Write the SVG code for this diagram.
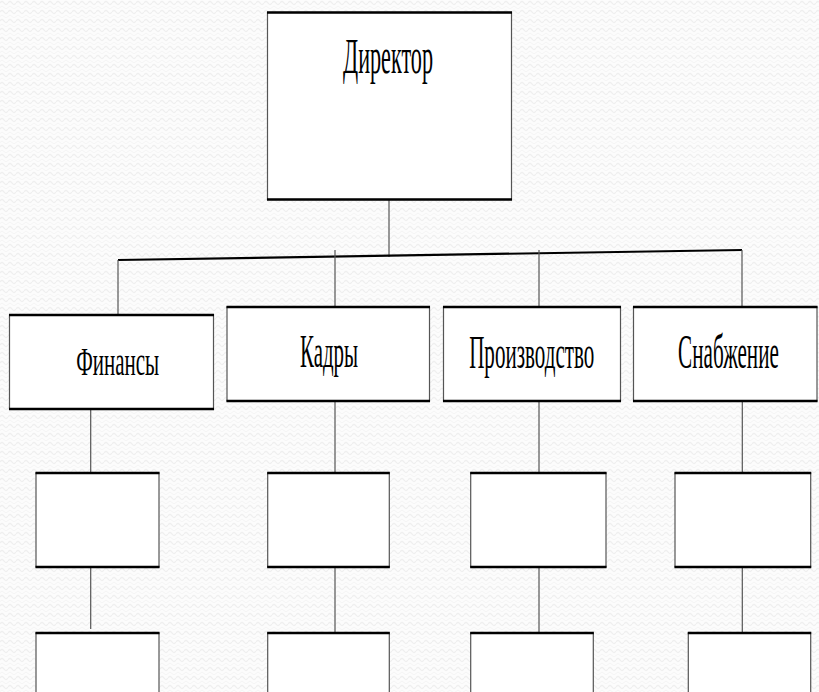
<svg xmlns="http://www.w3.org/2000/svg" width="819" height="692" viewBox="0 0 819 692">
  <style>
    .box { fill: #ffffff; stroke: #555555; stroke-width: 1.2; }
    .edge { stroke: #000000; stroke-width: 2.4; fill: none; }
    .link { stroke: #555555; stroke-width: 1.2; fill: none; }
    .bus { stroke: #000000; stroke-width: 2.2; fill: none; }
    .label { font-family: "Liberation Serif", "Times New Roman", serif; fill: #000000; text-anchor: middle; }
  </style>
  <defs>
    <pattern id="paper" width="8" height="9" patternUnits="userSpaceOnUse">
      <rect width="8" height="9" fill="#fcfcfc"/>
      <path d="M0 3 Q2 0 4 3 T8 3" stroke="#efefef" stroke-width="1.3" fill="none"/>
      <path d="M0 7.5 Q2 4.5 4 7.5 T8 7.5" stroke="#f4f4f4" stroke-width="1" fill="none"/>
    </pattern>
  </defs>

  <rect width="819" height="692" fill="url(#paper)"/>

  <!-- connectors -->
  <g id="connectors">
    <line class="link" x1="389" y1="199" x2="389" y2="257"/>
    <line class="bus" x1="118" y1="260" x2="742" y2="250"/>
    <line class="link" x1="118" y1="260" x2="118" y2="322"/>
    <line class="link" x1="335" y1="250" x2="335" y2="313"/>
    <line class="link" x1="539" y1="250" x2="539" y2="306"/>
    <line class="link" x1="742" y1="250" x2="742" y2="320"/>
    <!-- column links -->
    <line class="link" x1="90.7" y1="408" x2="90.7" y2="502"/>
    <line class="link" x1="90.7" y1="563" x2="90.7" y2="629"/>
    <line class="link" x1="335" y1="393" x2="335" y2="487"/>
    <line class="link" x1="335" y1="552" x2="335" y2="633"/>
    <line class="link" x1="539" y1="401" x2="539" y2="487"/>
    <line class="link" x1="539" y1="552" x2="539" y2="633"/>
    <line class="link" x1="742.3" y1="393" x2="742.3" y2="473"/>
    <line class="link" x1="742.3" y1="552" x2="742.3" y2="633"/>
  </g>

  <!-- director -->
  <g id="director">
    <rect class="box" x="267.5" y="12.5" width="244" height="187"/>
    <line class="edge" x1="267" y1="12.5" x2="512" y2="12.5"/>
    <line class="edge" x1="267" y1="199.5" x2="512" y2="199.5"/>
    <text class="label" transform="translate(388 73) scale(0.45 1)" font-size="50" textLength="200" lengthAdjust="spacingAndGlyphs">Директор</text>
  </g>

  <!-- departments -->
  <g id="finance">
    <rect class="box" x="9.5" y="315" width="204" height="94"/>
    <line class="edge" x1="9" y1="315" x2="214" y2="315"/>
    <line class="edge" x1="9" y1="409" x2="214" y2="409"/>
    <text class="label" transform="translate(117.7 375) scale(0.45 1)" font-size="40" textLength="184" lengthAdjust="spacingAndGlyphs">Финансы</text>
  </g>
  <g id="personnel">
    <rect class="box" x="227" y="307" width="202.5" height="94"/>
    <line class="edge" x1="226.5" y1="307" x2="430" y2="307"/>
    <line class="edge" x1="226.5" y1="401" x2="430" y2="401"/>
    <text class="label" transform="translate(329 367) scale(0.45 1)" font-size="47" textLength="129" lengthAdjust="spacingAndGlyphs">Кадры</text>
  </g>
  <g id="production">
    <rect class="box" x="443.5" y="307" width="177" height="94"/>
    <line class="edge" x1="443" y1="307" x2="621" y2="307"/>
    <line class="edge" x1="443" y1="401" x2="621" y2="401"/>
    <text class="label" transform="translate(531.7 368) scale(0.45 1)" font-size="47" textLength="278" lengthAdjust="spacingAndGlyphs">Производство</text>
  </g>
  <g id="supply">
    <rect class="box" x="633.5" y="307" width="183.5" height="94"/>
    <line class="edge" x1="633" y1="307" x2="817.5" y2="307"/>
    <line class="edge" x1="633" y1="401" x2="817.5" y2="401"/>
    <text class="label" transform="translate(728.5 368) scale(0.45 1)" font-size="48" textLength="224" lengthAdjust="spacingAndGlyphs">Снабжение</text>
  </g>

  <!-- second level -->
  <g id="finance-1">
    <rect class="box" x="36" y="473" width="123" height="94"/>
    <line class="edge" x1="35.5" y1="473" x2="159.5" y2="473"/>
    <line class="edge" x1="35.5" y1="567" x2="159.5" y2="567"/>
  </g>
  <g id="personnel-1">
    <rect class="box" x="267.7" y="473" width="121.6" height="94"/>
    <line class="edge" x1="267.2" y1="473" x2="389.8" y2="473"/>
    <line class="edge" x1="267.2" y1="567" x2="389.8" y2="567"/>
  </g>
  <g id="production-1">
    <rect class="box" x="470.7" y="473" width="135.3" height="94"/>
    <line class="edge" x1="470.2" y1="473" x2="606.5" y2="473"/>
    <line class="edge" x1="470.2" y1="567" x2="606.5" y2="567"/>
  </g>
  <g id="supply-1">
    <rect class="box" x="675" y="473" width="135.7" height="94"/>
    <line class="edge" x1="674.5" y1="473" x2="811.2" y2="473"/>
    <line class="edge" x1="674.5" y1="567" x2="811.2" y2="567"/>
  </g>

  <!-- third level -->
  <g id="finance-2">
    <rect class="box" x="36" y="633" width="123" height="80"/>
    <line class="edge" x1="35.5" y1="633" x2="159.5" y2="633"/>
  </g>
  <g id="personnel-2">
    <rect class="box" x="267.7" y="633" width="121.6" height="80"/>
    <line class="edge" x1="267.2" y1="633" x2="389.8" y2="633"/>
  </g>
  <g id="production-2">
    <rect class="box" x="470.7" y="633" width="122.6" height="80"/>
    <line class="edge" x1="470.2" y1="633" x2="593.8" y2="633"/>
  </g>
  <g id="supply-2">
    <rect class="box" x="688.3" y="633" width="122.4" height="80"/>
    <line class="edge" x1="687.8" y1="633" x2="811.2" y2="633"/>
  </g>
</svg>
